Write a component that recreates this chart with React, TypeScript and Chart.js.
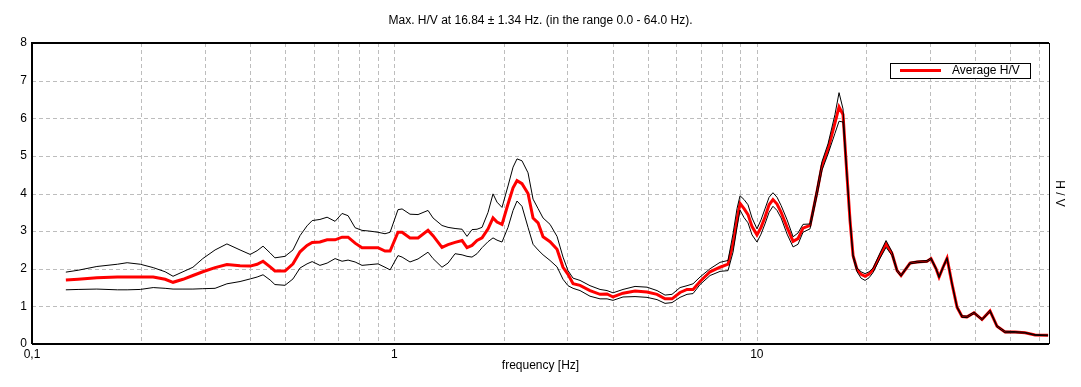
import React, { useEffect, useRef } from "react";
import { Chart, registerables } from "chart.js";

Chart.register(...registerables);

// Frequencies (Hz) at which the H/V curves were read
const freqHz = [
  0.124, 0.134, 0.151, 0.172, 0.183, 0.199, 0.216, 0.233, 0.245, 0.261,
  0.278, 0.296, 0.320, 0.345, 0.375, 0.400, 0.418, 0.434, 0.454, 0.468,
  0.499, 0.525, 0.549, 0.574, 0.593, 0.623, 0.652, 0.686, 0.717, 0.745,
  0.779, 0.814, 0.856, 0.901, 0.942, 0.973, 1.023, 1.050, 1.104, 1.162,
  1.238, 1.278, 1.353, 1.406, 1.470, 1.537, 1.586, 1.637, 1.690, 1.745,
  1.813, 1.871, 1.919, 1.981, 2.058, 2.125, 2.179, 2.249, 2.337, 2.413,
  2.491, 2.571, 2.688, 2.810, 2.919, 3.013, 3.111, 3.252, 3.465, 3.693,
  3.861, 4.010, 4.273, 4.612, 4.977, 5.304, 5.581, 5.834, 6.139, 6.418,
  6.668, 6.971, 7.429, 7.915, 8.327, 8.596, 8.818, 8.988, 9.219, 9.456,
  9.700, 10.01, 10.27, 10.53, 10.81, 11.08, 11.37, 11.67, 12.12, 12.59,
  12.99, 13.41, 14.02, 14.66, 15.13, 15.72, 16.43, 16.86, 17.29, 17.74,
  18.08, 18.43, 18.90, 19.39, 19.89, 20.40, 20.93, 21.88, 22.73, 23.61,
  24.38, 25.00, 26.47, 27.67, 29.49, 30.25, 31.23, 31.83, 32.65, 33.49,
  34.56, 35.68, 36.83, 38.02, 39.75, 41.82, 44.00, 46.00, 48.40, 51.59,
  54.97, 58.57, 63.63,
];

// Average H/V
const avgHV = [
  1.70, 1.72, 1.76, 1.78, 1.78, 1.78, 1.78, 1.72, 1.64, 1.72,
  1.82, 1.92, 2.03, 2.11, 2.08, 2.07, 2.12, 2.20, 2.05, 1.94,
  1.94, 2.13, 2.45, 2.62, 2.70, 2.71, 2.77, 2.77, 2.84, 2.84,
  2.68, 2.56, 2.56, 2.56, 2.47, 2.47, 2.97, 2.97, 2.82, 2.82,
  3.02, 2.88, 2.57, 2.64, 2.70, 2.75, 2.56, 2.62, 2.75, 2.82,
  3.06, 3.35, 3.24, 3.18, 3.72, 4.15, 4.34, 4.26, 4.00, 3.35,
  3.22, 2.85, 2.72, 2.52, 2.04, 1.85, 1.60, 1.56, 1.42, 1.32,
  1.33, 1.25, 1.35, 1.41, 1.38, 1.32, 1.20, 1.20, 1.37, 1.45,
  1.45, 1.66, 1.92, 2.04, 2.12, 2.66, 3.30, 3.74, 3.60, 3.44,
  3.12, 2.90, 3.10, 3.37, 3.70, 3.84, 3.72, 3.50, 3.10, 2.73,
  2.80, 3.08, 3.15, 4.05, 4.74, 5.18, 5.88, 6.30, 6.10, 4.45,
  3.28, 2.35, 1.98, 1.85, 1.80, 1.86, 1.97, 2.35, 2.66, 2.40,
  1.95, 1.82, 2.15, 2.18, 2.20, 2.27, 2.00, 1.78, 2.04, 2.28,
  1.60, 0.98, 0.73, 0.72, 0.83, 0.65, 0.88, 0.47, 0.32, 0.32,
  0.30, 0.24, 0.23,
];

// Average H/V + standard deviation
const upperHV = [
  1.91, 1.96, 2.06, 2.12, 2.16, 2.12, 2.03, 1.92, 1.80, 1.92,
  2.04, 2.27, 2.50, 2.66, 2.50, 2.38, 2.48, 2.60, 2.42, 2.29,
  2.33, 2.50, 2.88, 3.14, 3.28, 3.31, 3.37, 3.26, 3.47, 3.41,
  3.09, 3.02, 3.00, 2.97, 2.93, 2.97, 3.57, 3.59, 3.45, 3.44,
  3.55, 3.35, 3.15, 3.10, 3.07, 3.05, 2.86, 3.04, 3.05, 3.10,
  3.50, 3.99, 3.77, 3.63, 4.20, 4.70, 4.92, 4.87, 4.55, 3.85,
  3.60, 3.35, 3.18, 2.86, 2.31, 1.95, 1.75, 1.69, 1.55, 1.45,
  1.42, 1.36, 1.45, 1.53, 1.51, 1.42, 1.30, 1.32, 1.50, 1.55,
  1.60, 1.78, 2.00, 2.17, 2.22, 2.93, 3.60, 3.94, 3.84, 3.70,
  3.35, 3.06, 3.30, 3.59, 3.90, 4.02, 3.90, 3.68, 3.30, 2.85,
  2.95, 3.18, 3.19, 4.15, 4.85, 5.32, 6.10, 6.68, 6.25, 4.48,
  3.30, 2.38, 2.02, 1.92, 1.87, 1.92, 2.02, 2.42, 2.75, 2.45,
  1.98, 1.84, 2.17, 2.20, 2.22, 2.29, 2.02, 1.80, 2.06, 2.30,
  1.62, 1.00, 0.75, 0.74, 0.85, 0.67, 0.90, 0.49, 0.34, 0.33,
  0.31, 0.25, 0.24,
];

// Average H/V - standard deviation
const lowerHV = [
  1.44, 1.45, 1.46, 1.44, 1.44, 1.45, 1.50, 1.48, 1.46, 1.46,
  1.46, 1.47, 1.48, 1.60, 1.66, 1.73, 1.78, 1.84, 1.70, 1.58,
  1.56, 1.73, 2.02, 2.13, 2.19, 2.09, 2.15, 2.27, 2.20, 2.23,
  2.18, 2.09, 2.11, 2.13, 2.04, 1.97, 2.35, 2.31, 2.18, 2.26,
  2.44, 2.27, 2.04, 2.15, 2.40, 2.37, 2.33, 2.31, 2.40, 2.56,
  2.72, 2.82, 2.76, 2.71, 3.10, 3.55, 3.80, 3.66, 3.10, 2.65,
  2.50, 2.37, 2.22, 2.05, 1.72, 1.55, 1.48, 1.42, 1.27, 1.20,
  1.20, 1.16, 1.25, 1.26, 1.24, 1.18, 1.08, 1.10, 1.24, 1.32,
  1.34, 1.58, 1.82, 1.93, 1.95, 2.44, 3.10, 3.56, 3.36, 3.22,
  2.90, 2.71, 2.92, 3.19, 3.50, 3.66, 3.55, 3.35, 2.92, 2.58,
  2.65, 2.97, 3.06, 3.95, 4.62, 5.05, 5.60, 5.92, 5.90, 4.42,
  3.26, 2.30, 1.92, 1.75, 1.69, 1.76, 1.90, 2.28, 2.57, 2.35,
  1.92, 1.80, 2.13, 2.16, 2.18, 2.25, 1.98, 1.76, 2.02, 2.26,
  1.58, 0.96, 0.71, 0.70, 0.81, 0.63, 0.86, 0.45, 0.30, 0.30,
  0.29, 0.23, 0.22,
];

// Axis ticks (grid positions) and their labels
const xTickValues = [
  0.1, 0.2, 0.3, 0.4, 0.5, 0.6, 0.7, 0.8, 0.9,
  1, 2, 3, 4, 5, 6, 7, 8, 9,
  10, 20, 30, 40, 50, 60,
];
const xTickLabels: Record<string, string> = { "0.1": "0,1", "1": "1", "10": "10" };
const yTickValues = [0, 1, 2, 3, 4, 5, 6, 7, 8];

const titleText = "Max. H/V at 16.84 \u00b1 1.34 Hz. (in the range 0.0 - 64.0 Hz).";
const xTitleText = "frequency [Hz]";
const yTitleText = "H / V";
const legendText = "Average H/V";

const FONT_FAMILY = "'Liberation Sans', Arial, sans-serif";
const GRID_COLOR = "#bdbdbd";

const gridPlugin = {
  id: "dashedGrid",
  beforeDatasetsDraw(chart: any) {
    const { ctx, chartArea: ca, scales } = chart;
    ctx.save();
    ctx.strokeStyle = GRID_COLOR;
    ctx.lineWidth = 1;
    ctx.setLineDash([4, 3]);
    ctx.beginPath();
    for (const v of xTickValues) {
      const px = Math.round(scales.x.getPixelForValue(v)) + 0.5;
      if (px <= ca.left + 1 || px >= ca.right - 1) continue;
      ctx.moveTo(px, ca.top);
      ctx.lineTo(px, ca.bottom);
    }
    for (const v of yTickValues) {
      const py = Math.round(scales.y.getPixelForValue(v)) + 0.5;
      if (py <= ca.top + 1 || py >= ca.bottom - 1) continue;
      ctx.moveTo(ca.left, py);
      ctx.lineTo(ca.right, py);
    }
    ctx.stroke();
    ctx.restore();
  },
};

const decorPlugin = {
  id: "decor",
  afterDatasetsDraw(chart: any) {
    const { ctx, chartArea: ca, width } = chart;
    ctx.save();
    // frame
    ctx.strokeStyle = "#000";
    ctx.lineWidth = 2;
    ctx.beginPath();
    ctx.moveTo(ca.left, ca.bottom);
    ctx.lineTo(ca.left, ca.top);
    ctx.lineTo(ca.right, ca.top);
    ctx.moveTo(ca.left, ca.bottom);
    ctx.lineTo(ca.right, ca.bottom);
    ctx.stroke();
    ctx.lineWidth = 1;
    ctx.beginPath();
    ctx.moveTo(ca.right + 0.5, ca.top);
    ctx.lineTo(ca.right + 0.5, ca.bottom);
    ctx.stroke();

    // legend box
    const bx = ca.right - 159 + 0.5;
    const by = ca.top + 20 + 0.5;
    ctx.fillStyle = "#fff";
    ctx.fillRect(bx, by, 140, 15);
    ctx.strokeStyle = "#000";
    ctx.lineWidth = 1;
    ctx.strokeRect(bx, by, 140, 15);
    ctx.strokeStyle = "#ff0000";
    ctx.lineWidth = 3;
    ctx.beginPath();
    ctx.moveTo(ca.right - 149, by + 7);
    ctx.lineTo(ca.right - 108, by + 7);
    ctx.stroke();
    ctx.fillStyle = "#000";
    ctx.font = `12px ${FONT_FAMILY}`;
    ctx.textAlign = "left";
    ctx.textBaseline = "middle";
    ctx.fillText(legendText, ca.right - 97, by + 7.5);

    // titles
    const cx = (ca.left + ca.right) / 2;
    ctx.textAlign = "center";
    ctx.fillText(titleText, cx, 21);
    ctx.fillText(xTitleText, cx, 366);
    ctx.translate(width - 22, (ca.top + ca.bottom) / 2);
    ctx.rotate(Math.PI / 2);
    ctx.fillText(yTitleText, 0, 0);
    ctx.restore();
  },
};

export default function App() {
  const ref = useRef<HTMLCanvasElement>(null);

  useEffect(() => {
    document.body.style.margin = "0";
    const canvas = ref.current;
    if (!canvas) return;
    const toPoints = (vals: number[]) => freqHz.map((f, i) => ({ x: f, y: vals[i] }));
    const chart = new Chart(canvas, {
      type: "line",
      data: {
        datasets: [
          {
            label: "upper",
            data: toPoints(upperHV),
            borderColor: "#000",
            borderWidth: 1,
            pointRadius: 0,
            tension: 0,
            fill: false,
          },
          {
            label: "lower",
            data: toPoints(lowerHV),
            borderColor: "#000",
            borderWidth: 1,
            pointRadius: 0,
            tension: 0,
            fill: false,
          },
          {
            label: legendText,
            data: toPoints(avgHV),
            borderColor: "#ff0000",
            borderWidth: 3,
            pointRadius: 0,
            tension: 0,
            fill: false,
          },
        ],
      },
      options: {
        responsive: false,
        animation: false,
        devicePixelRatio: 1,
        events: [],
        layout: { padding: { top: 43, right: 32, left: 0, bottom: 0 } },
        plugins: {
          legend: { display: false },
          title: { display: false },
          tooltip: { enabled: false },
        },
        scales: {
          x: {
            type: "logarithmic",
            min: 0.1,
            max: 64,
            afterFit: (s: any) => {
              s.height = 43;
            },
            afterBuildTicks: (s: any) => {
              s.ticks = xTickValues.map((v) => ({ value: v }));
            },
            ticks: {
              autoSkip: false,
              maxRotation: 0,
              minRotation: 0,
              padding: 3,
              color: "#000",
              font: { family: FONT_FAMILY, size: 12 },
              callback: (v: any) => xTickLabels[String(v)] ?? "",
            },
            grid: { display: false, drawTicks: false },
            border: { display: false },
          },
          y: {
            type: "linear",
            min: 0,
            max: 8,
            afterFit: (s: any) => {
              s.width = 32;
            },
            afterBuildTicks: (s: any) => {
              s.ticks = yTickValues.map((v) => ({ value: v }));
            },
            ticks: {
              padding: 5,
              color: "#000",
              font: { family: FONT_FAMILY, size: 12 },
            },
            grid: { display: false, drawTicks: false },
            border: { display: false },
          },
        },
      } as any,
      plugins: [gridPlugin, decorPlugin],
    });
    return () => chart.destroy();
  }, []);

  return <canvas ref={ref} width={1081} height={387} style={{ display: "block" }} />;
}
